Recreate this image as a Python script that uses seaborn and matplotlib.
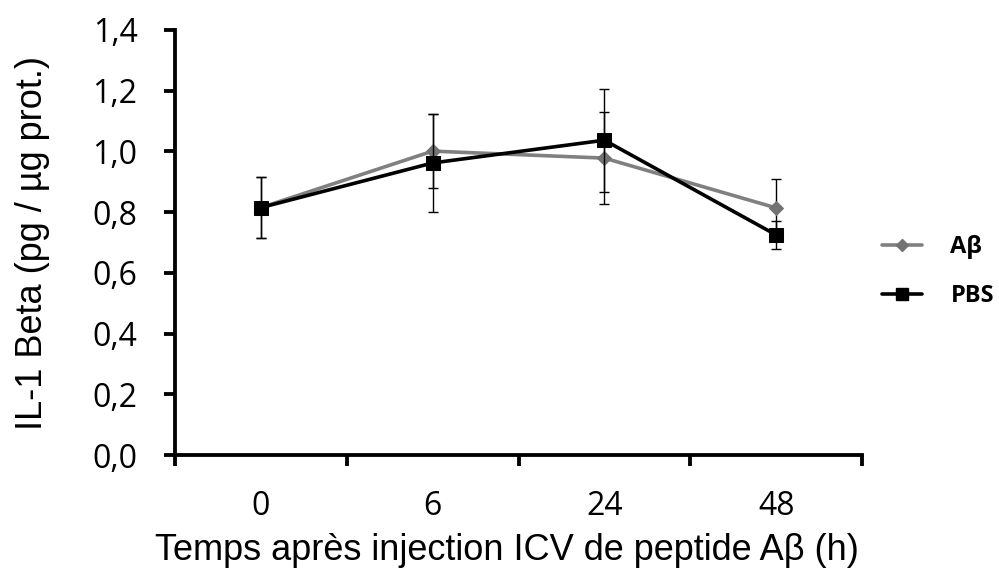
import numpy as np
import pandas as pd
import matplotlib
matplotlib.use("Agg")
import matplotlib.pyplot as plt
import seaborn as sns
from matplotlib.lines import Line2D

# Time points after ICV injection (hours)
timepoints = ["0", "6", "24", "48"]

# IL-1 beta levels (pg / µg protein), mean and error
abeta_mean = [0.815, 1.001, 0.978, 0.814]
abeta_err = [0.100, 0.122, 0.152, 0.095]
pbs_mean = [0.815, 0.962, 1.037, 0.725]
pbs_err = [0.100, 0.162, 0.170, 0.045]

series_names = ["A\u03b2", "PBS"]
series_colors = {"A\u03b2": "#808080", "PBS": "#000000"}
marker_colors = {"A\u03b2": "#737373", "PBS": "#000000"}
series_markers = {"A\u03b2": "D", "PBS": "s"}
marker_sizes = {"A\u03b2": 7, "PBS": 10}

pos = np.arange(len(timepoints)) + 0.5
df = pd.concat([
    pd.DataFrame({"pos": pos, "val": abeta_mean, "err": abeta_err, "series": series_names[0]}),
    pd.DataFrame({"pos": pos, "val": pbs_mean, "err": pbs_err, "series": series_names[1]}),
])

sns.set_style("white")
plt.rcParams["font.family"] = ["Liberation Sans", "DejaVu Sans"]
for key in ["text.color", "axes.labelcolor", "xtick.color", "ytick.color"]:
    plt.rcParams[key] = "black"

fig = plt.figure(figsize=(9.99, 5.71), dpi=100)
ax = fig.add_axes([175 / 999, 1 - 455 / 571, (862 - 175) / 999, (455 - 30) / 571])

for z, name in enumerate(series_names):
    sub = df[df["series"] == name]
    ax.errorbar(sub["pos"], sub["val"], yerr=sub["err"], fmt="none",
                ecolor="black", elinewidth=1.0, capsize=3.6, capthick=1.0, zorder=2 + z)
    sns.lineplot(data=sub, x="pos", y="val", ax=ax, color=series_colors[name],
                 marker=series_markers[name], markersize=marker_sizes[name],
                 markeredgecolor=marker_colors[name], markerfacecolor=marker_colors[name],
                 linewidth=2.6, zorder=3 + z, legend=False)

ax.set_xlim(0, len(timepoints))
ax.set_ylim(0, 1.4)
ax.set_xticks(np.arange(0, len(timepoints) + 1))
ax.set_xticklabels([])
ax.set_xticks(pos, minor=True)
ax.set_xticklabels(timepoints, minor=True)
ax.tick_params(axis="x", which="major", direction="out", length=8, width=2.75, bottom=True)
ax.tick_params(axis="x", which="minor", length=0, labelsize=23, pad=25)
yvals = np.arange(0, 1.41, 0.2)
ax.set_yticks(yvals)
ax.set_yticklabels([f"{v:.1f}".replace(".", ",") for v in yvals])
ax.tick_params(axis="y", direction="out", length=8, width=2.75, left=True, labelsize=23, pad=19)
for lbl in ax.get_xticklabels(minor=True) + ax.get_yticklabels():
    lbl.set_family(["Open Sans", "DejaVu Sans"])

for side in ["top", "right"]:
    ax.spines[side].set_visible(False)
for side in ["left", "bottom"]:
    ax.spines[side].set_linewidth(2.75)
    ax.spines[side].set_color("black")

ax.set_xlabel("Temps apr\u00e8s injection ICV de peptide A\u03b2 (h)", fontsize=26)
ax.set_ylabel("IL-1 Beta (pg / \u00b5g prot.)", fontsize=26)
ax.xaxis.set_label_coords(0.4825, -0.183)
ax.yaxis.set_label_coords(-0.182, 0.5)

handles = [
    Line2D([0], [0], color=series_colors[n], lw=2.6, marker=series_markers[n],
           markersize=marker_sizes[n] - 1, markerfacecolor=marker_colors[n],
           markeredgecolor=marker_colors[n])
    for n in series_names
]
fig.legend(handles, series_names, loc="center left",
           bbox_to_anchor=(882 / 999, 1 - 271.5 / 571),
           frameon=False, borderpad=0, borderaxespad=0,
           handlelength=1.7, handletextpad=1.2, labelspacing=1.05,
           prop={"family": ["Open Sans", "DejaVu Sans"], "weight": "bold", "size": 17})

fig.savefig("out.png", dpi=100)
